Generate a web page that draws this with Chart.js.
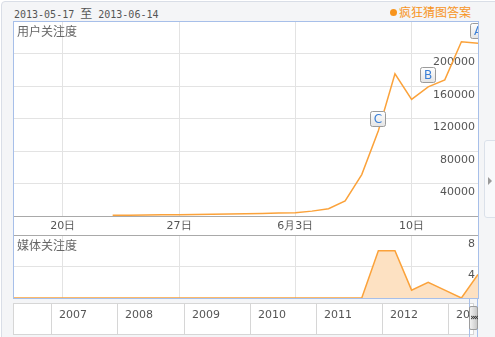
<!DOCTYPE html>
<html>
<head>
<meta charset="utf-8">
<script src="https://cdn.jsdelivr.net/npm/chart.js@4/dist/chart.umd.min.js"></script>
<style>
  body { margin: 0; width: 495px; height: 337px; overflow: hidden; background: #fff; position: relative; font-family: "Noto Sans CJK SC", "DejaVu Sans", sans-serif; }
  .frame { position: absolute; left: 1px; top: 1px; width: 500px; height: 345px; box-sizing: border-box; border: 1px solid #d9dee7; border-radius: 4px; background: #f4f5f7; }
  .range { position: absolute; left: 14px; top: 4px; font: 10px "DejaVu Sans Mono", monospace; color: #555; }
  .range span { font: 12px "Noto Sans CJK SC"; }
  .hot { position: absolute; left: 390px; top: 3px; font: 12px "Noto Sans CJK SC"; color: #f7941d; }
  .hot i { display: inline-block; width: 7px; height: 7px; border-radius: 50%; background: #f7941d; margin-right: 2px; vertical-align: 1px; }
  canvas { position: absolute; }
  .box { position: absolute; left: 13px; top: 21px; width: 466px; height: 278px; box-sizing: border-box; border: 1px solid #a7bfe9; pointer-events: none; }
  .white { position: absolute; left: 13px; top: 21px; width: 466px; height: 278px; background: #fff; }
  .ttl { position: absolute; left: 17px; font: 12px "Noto Sans CJK SC"; color: #666; }
  .tab { position: absolute; left: 484px; top: 140px; width: 20px; height: 78px; box-sizing: border-box; border: 1px solid #dbe1ea; border-radius: 3px; background: #f8f9fb; }
  .tab b { position: absolute; left: 3px; top: 36px; width: 0; height: 0; border-top: 4px solid transparent; border-bottom: 4px solid transparent; border-left: 4px solid #9a9a9a; }
  .nav { position: absolute; left: 13px; top: 303px; width: 461px; height: 32px; box-sizing: border-box; border: 1px solid #d6d6d6; background: #fff; overflow: hidden; }
  .nav div { position: absolute; top: 0; height: 32px; border-left: 1px solid #d6d6d6; font: 11px "DejaVu Sans", sans-serif; color: #555; line-height: 22px; padding-left: 7px; }
  .handle { position: absolute; left: 469px; top: 306px; width: 9px; height: 24px; box-sizing: border-box; border: 1px solid #9c9c9c; border-radius: 2px; background: linear-gradient(to right, #f2f2f2, #c9c9c9); font: bold 8px "DejaVu Sans"; color: #333; line-height: 22px; text-align: center; letter-spacing: -2px; }
  .sel { position: absolute; left: 469px; top: 298px; width: 9px; height: 40px; box-sizing: border-box; border-left: 1px solid #a7bfe9; border-right: 1px solid #a7bfe9; }
</style>
</head>
<body>
<div class="frame"></div>
<div class="range">2013-05-17 <span>至</span> 2013-06-14</div>
<div class="hot"><i></i>疯狂猜图答案</div>
<div class="white"></div>
<canvas id="top" width="465" height="214" style="left:13px;top:21px;width:465px;height:214px"></canvas>
<canvas id="bottom" width="465" height="63" style="left:13px;top:235px;width:465px;height:63px"></canvas>
<div class="box"></div>
<div class="ttl" style="top:22px">用户关注度</div>
<div class="ttl" style="top:236px">媒体关注度</div>
<div class="tab"><b></b></div>
<div class="nav" id="nav"></div>
<div class="sel"></div>
<div class="handle">»«</div>
<script>
// days shown, 2013-05-17 .. 2013-06-14
const days = ['05-17', '05-18', '05-19', '05-20', '05-21', '05-22', '05-23', '05-24', '05-25', '05-26',
  '05-27', '05-28', '05-29', '05-30', '05-31', '06-01', '06-02', '06-03', '06-04', '06-05',
  '06-06', '06-07', '06-08', '06-09', '06-10', '06-11', '06-12', '06-13', '06-14'];

const userIndex = [null, null, null, null, null, null, 800, 1000, 1200, 1400, 1600, 1900, 2200, 2500, 2900,
  3200, 3600, 4000, 6000, 9000, 18500, 51000, 105000, 175000, 143500, 159000, 167500, 214500, 212500];

const mediaIndex = [0, 0, 0, 0, 0, 0, 0, 0, 0, 0, 0, 0, 0, 0, 0, 0, 0, 0, 0, 0, 0, 0,
  6, 6, 1, 2, 1, 0, 3];

const xTickIndex = [3, 10, 17, 24];
const xTickLabels = ['20日', '27日', '6月3日', '10日'];
const userTicks = [0, 40000, 80000, 120000, 160000, 200000, 240000];
const mediaTicks = [0, 4, 8];

// A/B/C markers (index into days)
const markIndex = [28, 25, 22];
const markLabels = ['A', 'B', 'C'];

// years in the navigator under the charts
const navYears = ['', '2007', '2008', '2009', '2010', '2011', '2012', '2013'];

const orange = '#fba23a';
const gridCol = '#e3e3e3';

function keepTicks(scale) {
  scale.ticks = scale.ticks.filter(t => xTickIndex.includes(t.value));
}

function noPad(scale) {
  scale.paddingTop = 0;
  scale.paddingBottom = 0;
  scale.paddingLeft = 0;
  scale.paddingRight = 0;
}

const markers = {
  id: 'markers',
  afterDatasetsDraw(chart) {
    const { ctx, chartArea } = chart;
    const meta = chart.getDatasetMeta(0);
    ctx.save();
    ctx.beginPath();
    ctx.rect(chartArea.left, chartArea.top, chartArea.right - chartArea.left, chartArea.bottom - chartArea.top);
    ctx.clip();
    markIndex.forEach((idx, i) => {
      const pt = meta.data[idx];
      const x = Math.round(pt.x) - 7.5;
      const y = Math.round(pt.y) - 19.5;
      const g = ctx.createLinearGradient(0, y, 0, y + 15);
      g.addColorStop(0, '#ffffff');
      g.addColorStop(1, '#e4e4e4');
      ctx.fillStyle = g;
      ctx.strokeStyle = '#9b9b9b';
      ctx.lineWidth = 1;
      ctx.beginPath();
      ctx.roundRect(x, y, 15, 15, 2);
      ctx.fill();
      ctx.stroke();
      ctx.fillStyle = '#3b7fd6';
      ctx.font = '12px "DejaVu Sans"';
      ctx.textAlign = 'center';
      ctx.textBaseline = 'middle';
      ctx.fillText(markLabels[i], x + 7.5, y + 8);
    });
    ctx.restore();
  }
};

new Chart(document.getElementById('top'), {
  type: 'line',
  data: {
    labels: days,
    datasets: [{
      data: userIndex,
      borderColor: orange,
      borderWidth: 1.5,
      pointRadius: 0,
      tension: 0,
      fill: false,
    }],
  },
  options: {
    responsive: false,
    animation: false,
    layout: { padding: 0 },
    plugins: { legend: { display: false }, tooltip: { enabled: false } },
    scales: {
      x: {
        offset: false,
        afterBuildTicks: keepTicks,
        afterFit(scale) { scale.height = 19; noPad(scale); },
        border: { display: false },
        grid: { color: gridCol, drawTicks: false },
        ticks: {
          autoSkip: false,
          maxRotation: 0,
          padding: 4,
          color: '#555',
          font: { family: 'DejaVu Sans', size: 11 },
          callback: function (v) { return xTickLabels[xTickIndex.indexOf(v)]; },
        },
      },
      y: {
        position: 'right',
        min: 0,
        max: 240000,
        afterBuildTicks(scale) { scale.ticks = userTicks.map(v => ({ value: v })); },
        afterFit(scale) { scale.width = 0; noPad(scale); },
        border: { display: false },
        grid: {
          drawTicks: false,
          color: c => c.tick.value === 0 ? '#a9a9a9' : (c.tick.value === 240000 ? 'rgba(0,0,0,0)' : gridCol),
        },
        ticks: {
          mirror: true,
          padding: -3,
          labelOffset: 9,
          color: '#555',
          font: { family: 'DejaVu Sans', size: 11 },
          callback: v => (v === 0 || v === 240000) ? '' : String(v),
        },
      },
    },
  },
  plugins: [markers],
});

new Chart(document.getElementById('bottom'), {
  type: 'line',
  data: {
    labels: days,
    datasets: [{
      data: mediaIndex,
      borderColor: orange,
      backgroundColor: '#fde1c2',
      borderWidth: 1.5,
      pointRadius: 0,
      tension: 0,
      fill: 'origin',
    }],
  },
  options: {
    responsive: false,
    animation: false,
    layout: { padding: 0 },
    plugins: { legend: { display: false }, tooltip: { enabled: false } },
    scales: {
      x: {
        offset: false,
        afterBuildTicks: keepTicks,
        afterFit(scale) { scale.height = 0; noPad(scale); },
        border: { display: false },
        grid: { color: gridCol, drawTicks: false },
        ticks: { display: false, autoSkip: false },
      },
      y: {
        position: 'right',
        min: 0,
        max: 8,
        afterBuildTicks(scale) { scale.ticks = mediaTicks.map(v => ({ value: v })); },
        afterFit(scale) { scale.width = 0; noPad(scale); },
        border: { display: false },
        grid: {
          drawTicks: false,
          color: c => c.tick.value === 8 ? '#a9a9a9' : gridCol,
        },
        ticks: {
          mirror: true,
          padding: -3,
          labelOffset: 9,
          color: '#555',
          font: { family: 'DejaVu Sans', size: 11 },
          callback: v => v === 0 ? '' : String(v),
        },
      },
    },
  },
});

// navigator year cells
const nav = document.getElementById('nav');
const cellLeft = [-1, 37, 103, 170, 236, 302, 368, 434];
navYears.forEach((y, i) => {
  const d = document.createElement('div');
  d.style.left = cellLeft[i] + 'px';
  d.style.width = '66px';
  d.textContent = y;
  nav.appendChild(d);
});
</script>
</body>
</html>
